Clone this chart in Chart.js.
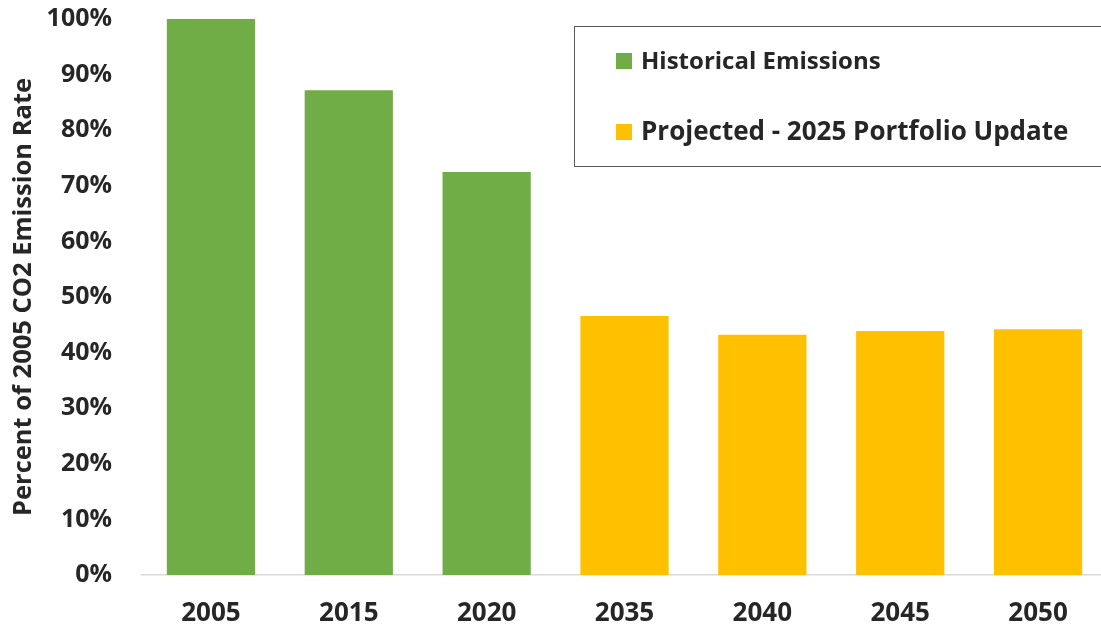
<!DOCTYPE html>
<html>
<head>
<meta charset="utf-8">
<script src="https://cdn.jsdelivr.net/npm/chart.js@4"></script>
<style>
html,body{margin:0;padding:0;background:#fff;overflow:hidden;}
#wrap{width:1101px;height:629px;position:relative;overflow:hidden;}
</style>
</head>
<body>
<div id="wrap"><canvas id="c" width="1107" height="629"></canvas></div>
<script>
const categories = ['2005','2015','2020','2035','2040','2045','2050'];
const historical = [100, 87.2, 72.5, null, null, null, null];
const projected = [null, null, null, 46.6, 43.2, 43.9, 44.2];
const seriesNames = ['Historical Emissions', 'Projected - 2025 Portfolio Update'];
const yTicks = [0,10,20,30,40,50,60,70,80,90,100];
const yTitle = 'Percent of 2005 CO2 Emission Rate';

const FONT = "'Open Sans', 'Noto Sans', sans-serif";
const TXT = '#262626';

const legendBox = {
  id: 'legendBox',
  afterDraw(chart) {
    const ctx = chart.ctx;
    ctx.save();
    ctx.strokeStyle = '#595959';
    ctx.lineWidth = 1;
    ctx.strokeRect(574.5, 26.5, 540, 140);
    const ys = [61, 132];
    const sizes = [24, 26];
    chart.data.datasets.forEach((ds, i) => {
      ctx.fillStyle = ds.backgroundColor;
      ctx.fillRect(616, ys[i] - 8, 16, 16);
      ctx.fillStyle = TXT;
      ctx.font = "bold " + sizes[i] + "px " + FONT;
      ctx.textBaseline = 'middle';
      ctx.fillText(ds.label, 641, ys[i] + 1);
    });
    ctx.restore();
  }
};

new Chart(document.getElementById('c'), {
  type: 'bar',
  data: {
    labels: categories,
    datasets: [
      { label: seriesNames[0], data: historical, backgroundColor: '#70AD47', borderWidth: 0 },
      { label: seriesNames[1], data: projected, backgroundColor: '#FFC000', borderWidth: 0 }
    ]
  },
  options: {
    responsive: false,
    animation: false,
    devicePixelRatio: 1,
    layout: { padding: { top: 19, right: 0, left: 0, bottom: 0 } },
    datasets: { bar: { grouped: false, barPercentage: 0.64, categoryPercentage: 1 } },
    plugins: { legend: { display: false }, tooltip: { enabled: false } },
    scales: {
      x: {
        grid: { display: false, drawTicks: false },
        border: { display: true, color: '#D9D9D9', width: 1.5 },
        ticks: { color: TXT, font: { family: FONT, size: 26, weight: 'bold' }, padding: 23, maxRotation: 0 },
        afterFit(s) { s.height = 54; s.paddingLeft = 0; s.paddingRight = 0; }
      },
      y: {
        min: 0, max: 100,
        afterBuildTicks(s) { s.ticks = yTicks.map(v => ({ value: v })); },
        grid: { display: false, drawTicks: false },
        border: { display: false },
        ticks: { color: TXT, font: { family: FONT, size: 25, weight: 'bold' }, padding: 30, callback: v => v + '%' },
        title: { display: true, text: yTitle, color: TXT, font: { family: FONT, size: 25.5, weight: 'bold' }, padding: { top: 8, bottom: 0 } },
        afterFit(s) { s.width = 142; s.paddingTop = 0; s.paddingBottom = 0; }
      }
    }
  },
  plugins: [legendBox]
});
</script>
</body>
</html>
